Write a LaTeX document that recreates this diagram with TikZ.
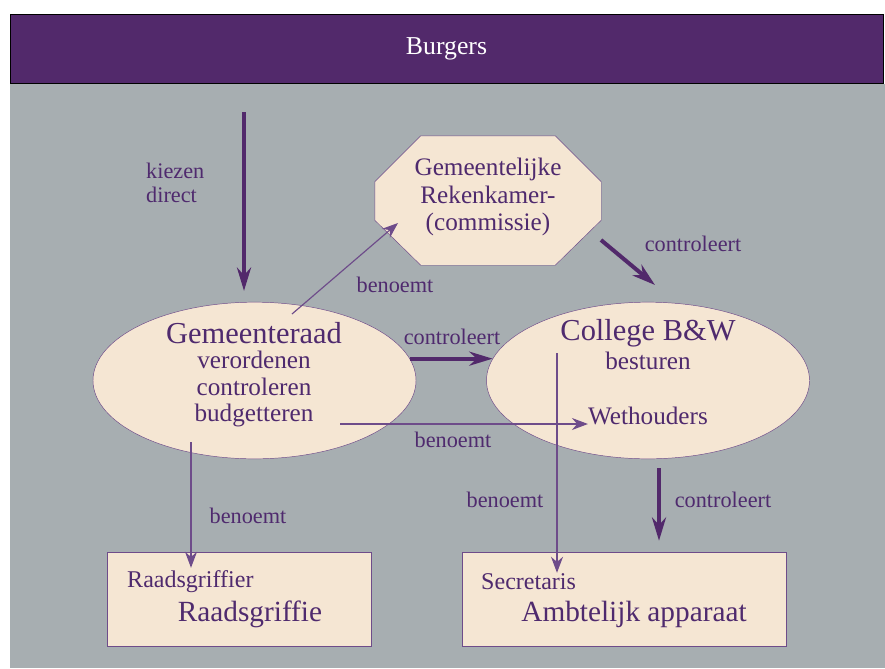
\documentclass[tikz,border=0pt]{standalone}
\usepackage{fontspec}
\setmainfont{Liberation Serif}
\usetikzlibrary{arrows.meta, positioning, shapes.geometric, calc}
\definecolor{paars}{HTML}{52296B}
\definecolor{grijs}{HTML}{A7AEB1}
\definecolor{creme}{HTML}{F5E6D3}
\definecolor{tekst}{HTML}{4F2A6E}
\definecolor{lijn}{HTML}{6E4C8A}

\begin{document}
\begin{tikzpicture}[
  x=0.3mm, y=-0.3mm,
  every node/.style={text=tekst, inner sep=0pt},
  lbl/.style={font=\fontsize{19}{21}\selectfont},
  titel/.style={font=\fontsize{26}{28}\selectfont},
  taak/.style={font=\fontsize{21.5}{23}\selectfont, align=center},
  functie/.style={font=\fontsize{20.5}{22}\selectfont, anchor=west},
  ovaal/.style={ellipse, draw=lijn, fill=creme, minimum width=96.9mm, minimum height=47mm},
  doos/.style={rectangle, draw=lijn, fill=creme, minimum height=28.2mm},
  dik/.style={draw=paars, line width=1.2mm, -{Stealth[length=7mm, width=4.2mm]}},
  dun/.style={draw=lijn, line width=0.35mm, -{Stealth[length=4.8mm, width=3.6mm]}},
]
\useasboundingbox (0,0) rectangle (885,668);
% Achtergrond
\fill[grijs] (10,84) rectangle (885,668);
\node[draw=black, fill=paars, minimum width=261.9mm, minimum height=20.7mm,
  text=white, font=\fontsize{22}{24}\selectfont] (burgers) at (446.5,48.5) {Burgers};

% Organen
\node[ovaal] (gr) at (254.5,380.5) {};
\node[ovaal] (bw) at (648,380.5) {};
\node[minimum width=67.8mm, minimum height=38.7mm] (rk) at (488,200.5) {};
\draw[lijn, fill=creme] ($(rk.north west)+(46,0)$) -- ($(rk.north east)+(-46,0)$)
  -- ($(rk.north east)+(0,46)$) -- ($(rk.south east)+(0,-45)$)
  -- ($(rk.south east)+(-46,0)$) -- ($(rk.south west)+(46,0)$)
  -- ($(rk.south west)+(0,-45)$) -- ($(rk.north west)+(0,46)$) -- cycle;
\node[doos, minimum width=79.2mm] (rg) at (239,599) {};
\node[doos, minimum width=97.2mm] (sa) at (624,599) {};

% Teksten
\node[taak, font=\fontsize{21.5}{23.4}\selectfont] (rk-tekst) at (488,197)
  {Gemeentelijke\\Rekenkamer-\\(commissie)};
\node[titel] (gr-titel) at (254,333) {Gemeenteraad};
\node[taak] (gr-taken) at (254,389) {verordenen\\controleren\\budgetteren};
\node[titel] (bw-titel) at (648,333) {College B\&W};
\node[taak] (bw-taken) at (648,361) {besturen};
\node[taak, anchor=base] (wh) at (648,424) {Wethouders};
\node[functie] (rg-functie) at (127,582) {Raadsgriffier};
\node[font=\fontsize{25}{27}\selectfont] (rg-titel) at (250,614) {Raadsgriffie};
\node[functie] (sa-functie) at (481,582) {Secretaris};
\node[font=\fontsize{25}{27}\selectfont] (sa-titel) at (634,614) {Ambtelijk apparaat};

% Pijlen
\coordinate (kies) at (244,112);
\draw[dik, shorten >=3.3mm] (kies) -- (kies |- gr.north);
\draw[dun] ($(gr.center)+(37.5,-66.5)$) -- ($(rk.center)+(-90,22.5)$);
\draw[dik] ($(rk.center)+(113,39.5)$) -- ($(bw.center)+(7,-95.5)$);
\draw[dik] (gr.8) -- (bw.172);
\coordinate (gr-wh) at (340,424);
\draw[dun] (gr-wh) -- (wh.base west);
\coordinate (gr-rg) at (191,442);
\draw[dun, shorten >=-4.8mm] (gr-rg) -- (gr-rg |- rg.north);
\coordinate (bw-sa) at (557,353);
\draw[dun, shorten >=-6.3mm] (bw-sa) -- (bw-sa |- sa.north);
\draw[dik, shorten <=2.7mm, shorten >=3.3mm] ($(bw.south)+(11,0)$) -- ($(sa.north)+(35,0)$);

% Labels
\node[lbl, align=left, anchor=west] (kies-lbl) at (146,183) {kiezen\\direct};
\foreach \i/\pos/\tekst in {1/{(395,285)}/benoemt, 2/{(453,440)}/benoemt,
  3/{(248,516)}/benoemt, 4/{(505,500)}/benoemt, 5/{(693,244)}/controleert,
  6/{(452,337)}/controleert, 7/{(723,500)}/controleert}
  \node[lbl] (lbl-\i) at \pos {\tekst};
\end{tikzpicture}
\end{document}
